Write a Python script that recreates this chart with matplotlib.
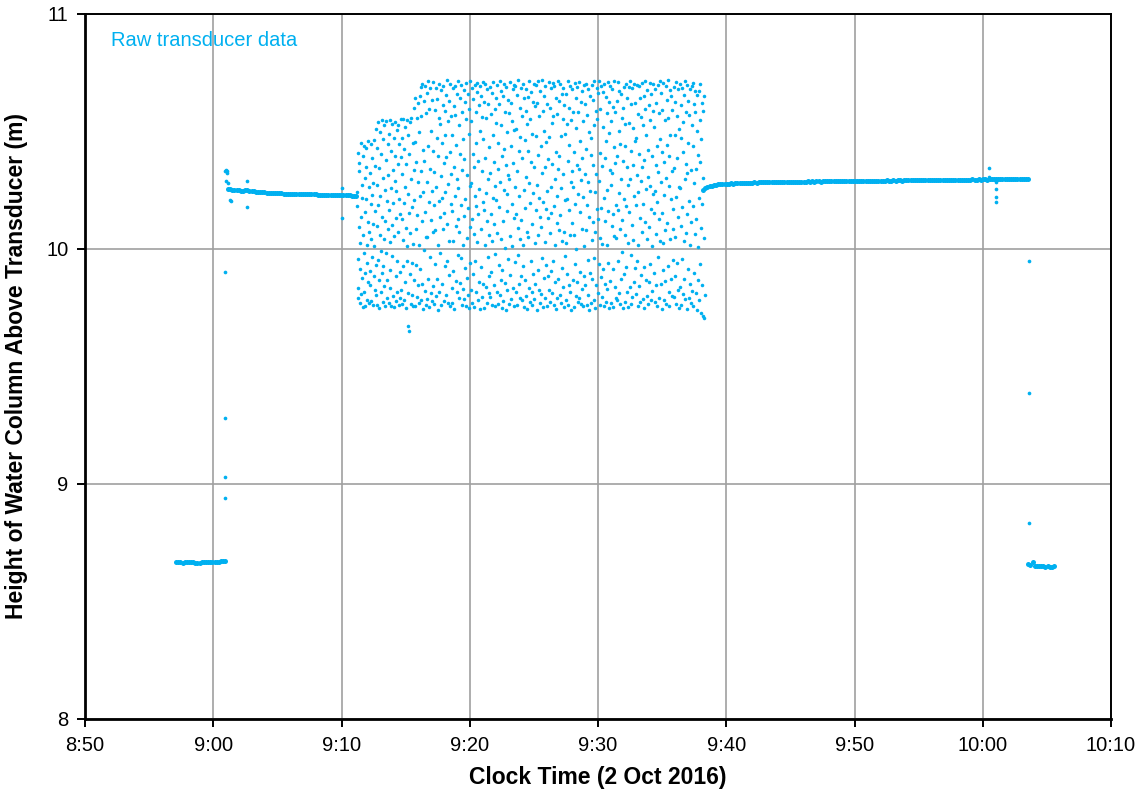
import numpy as np
import matplotlib.pyplot as plt
from matplotlib.ticker import FuncFormatter

plt.rcParams['font.family'] = ['Liberation Sans', 'DejaVu Sans']

BLUE = '#00B0F0'

# clock time is kept as minutes after 8:00 (8:50 -> 50, 10:10 -> 130)
# each logged segment: start time, sampling interval (s), heights (m)

# before the test, ~8:57 - 9:01
seg_a_start = 57.10
seg_a_step_s = 10
seg_a = [8.666, 8.667, 8.666, 8.665, 8.666, 8.667, 8.668, 8.667, 8.666, 8.665,
         8.664, 8.665, 8.666, 8.667, 8.668, 8.667, 8.668, 8.669, 8.670, 8.669,
         8.670, 8.671, 8.672, 8.674]

# steady level 9:01 - 9:11
seg_b_start = 61.15
seg_b_step_s = 10
seg_b = [10.256, 10.254, 10.251, 10.249, 10.252, 10.250, 10.248, 10.247, 10.249, 10.250,
         10.248, 10.246, 10.245, 10.244, 10.243, 10.242, 10.242, 10.241, 10.240, 10.240,
         10.239, 10.239, 10.238, 10.238, 10.237, 10.237, 10.236, 10.236, 10.236, 10.235,
         10.235, 10.235, 10.234, 10.234, 10.234, 10.233, 10.233, 10.233, 10.232, 10.232,
         10.232, 10.232, 10.231, 10.231, 10.231, 10.231, 10.230, 10.230, 10.230, 10.230,
         10.229, 10.229, 10.229, 10.229, 10.228, 10.228, 10.228, 10.228, 10.227, 10.227,
         10.227]

# noisy section 9:11 - 9:38
seg_c_start = 71.20
seg_c_step_s = 1.48
seg_c = [
    10.183, 10.241, 9.792, 9.836, 10.407, 9.958, 10.092, 10.331, 10.368, 9.771, 10.026, 9.914, 10.452, 10.137, 9.808, 10.274, 10.219, 9.876, 9.753, 10.396,
    10.061, 9.982, 10.438, 9.819, 10.157, 10.303, 9.757, 9.897, 10.212, 10.429, 10.348, 9.941, 10.019, 9.783, 10.116, 10.459, 9.861, 10.262, 10.071, 9.769,
    10.325, 9.905, 9.846, 10.193, 10.447, 10.041, 9.779, 10.386, 10.231, 9.968, 9.762, 10.108, 10.281, 10.462, 9.887, 10.014, 10.352, 9.825, 10.163, 9.934,
    10.512, 9.804, 10.096, 10.273, 9.761, 10.431, 10.539, 9.953, 10.187, 9.869, 9.748, 10.346, 10.058, 10.497, 10.224, 9.815, 9.991, 10.404, 10.548, 9.896,
    10.137, 9.776, 10.302, 10.466, 9.928, 10.044, 10.527, 9.842, 10.251, 10.119, 9.759, 10.378, 9.981, 10.543, 10.206, 9.867, 9.793, 10.445, 10.083, 10.316,
    9.771, 10.488, 10.166, 9.912, 10.551, 10.029, 9.834, 10.259, 10.418, 9.757, 10.102, 10.534, 9.969, 10.337, 9.801, 10.195, 10.473, 10.054, 9.752, 10.289,
    10.396, 10.541, 9.885, 10.132, 9.778, 10.247, 10.508, 9.947, 9.816, 10.363, 10.073, 10.529, 9.763, 10.214, 10.446, 9.902, 10.151, 9.791, 10.392, 10.554,
    9.826, 10.127, 10.474, 9.764, 10.318, 10.038, 10.552, 9.927, 10.196, 9.784, 10.425, 10.263, 9.859, 10.517, 10.091, 9.749, 10.361, 10.012, 10.549, 9.951,
    10.234, 10.486, 9.812, 9.672, 9.651, 10.154, 10.403, 9.893, 10.539, 10.066, 9.767, 10.297, 10.558, 9.941, 10.178, 9.803, 10.452, 10.021, 9.756, 10.338,
    10.601, 9.868, 10.209, 10.454, 9.759, 10.642, 10.087, 9.932, 10.371, 10.558, 9.794, 10.143, 10.623, 10.286, 9.847, 10.018, 10.496, 9.771, 10.652, 10.227,
    9.914, 10.689, 10.332, 9.781, 10.568, 10.117, 10.703, 9.853, 10.244, 10.421, 9.746, 10.631, 9.995, 10.376, 10.692, 9.822, 10.159, 10.578, 10.049, 9.763,
    10.665, 10.283, 9.789, 10.052, 10.714, 10.437, 9.871, 10.198, 9.754, 10.596, 10.342, 9.968, 10.687, 10.125, 9.813, 10.503, 10.246, 9.779, 10.632, 10.071,
    9.842, 10.417, 10.709, 10.186, 9.766, 10.328, 10.591, 9.935, 10.079, 10.684, 9.798, 10.262, 10.473, 10.639, 9.874, 10.016, 10.395, 9.742, 10.558, 10.204,
    10.701, 9.819, 10.137, 10.532, 9.984, 10.676, 10.309, 9.763, 10.451, 10.218, 9.851, 10.612, 10.693, 10.083, 9.778, 10.367, 10.154, 10.589, 9.926, 10.484,
    10.241, 10.657, 9.803, 10.392, 10.718, 9.947, 10.106, 10.546, 9.771, 10.275, 10.629, 9.889, 10.036, 10.702, 10.413, 9.758, 10.192, 10.567, 10.318, 9.834,
    10.486, 9.772, 10.163, 10.685, 10.034, 9.906, 10.609, 10.351, 9.745, 10.227, 10.571, 10.694, 9.862, 10.098, 10.442, 9.815, 10.299, 10.658, 9.973, 10.126,
    10.713, 10.258, 9.793, 10.527, 10.074, 9.857, 10.641, 10.403, 9.961, 10.189, 10.698, 9.761, 10.336, 10.583, 10.016, 9.829, 10.467, 10.676, 10.142, 9.786,
    10.382, 9.918, 10.624, 10.211, 9.758, 10.554, 10.707, 10.047, 9.876, 10.315, 10.661, 9.804, 10.173, 10.491, 9.747, 10.596, 10.268, 9.939, 10.715, 10.095,
    9.826, 10.543, 10.279, 9.769, 10.685, 10.128, 10.406, 9.892, 10.637, 10.062, 9.753, 10.349, 10.699, 10.224, 9.951, 10.581, 9.817, 10.183, 10.452, 10.667,
    10.031, 10.708, 9.782, 10.374, 10.149, 10.612, 9.861, 10.257, 10.693, 9.744, 10.502, 10.086, 9.923, 10.649, 10.331, 9.796, 10.563, 10.201, 10.711, 9.853,
    10.467, 10.164, 9.749, 10.625, 10.019, 10.388, 10.703, 9.838, 10.239, 10.558, 9.772, 10.117, 10.682, 9.965, 10.296, 10.617, 9.811, 10.435, 10.059, 9.887,
    10.691, 9.794, 10.325, 10.573, 9.901, 10.147, 10.662, 10.036, 9.762, 10.483, 10.219, 10.709, 9.848, 10.371, 10.106, 9.756, 10.594, 10.267, 9.979, 10.643,
    10.208, 10.537, 9.817, 10.069, 10.696, 10.341, 9.765, 10.452, 9.934, 10.618, 10.177, 9.803, 10.716, 10.284, 10.043, 9.869, 10.529, 10.672, 9.751, 10.396,
    9.912, 10.651, 10.118, 9.778, 10.427, 10.704, 10.251, 9.856, 10.584, 10.003, 10.359, 9.741, 10.688, 10.162, 10.497, 9.824, 10.233, 10.633, 9.957, 10.314,
    10.579, 9.768, 10.296, 10.712, 10.054, 9.891, 10.438, 10.621, 9.786, 10.193, 10.546, 10.014, 9.832, 10.681, 10.367, 9.759, 10.132, 10.505, 10.699, 9.944,
    10.263, 10.694, 9.815, 10.148, 10.511, 9.762, 10.657, 10.332, 9.976, 10.089, 10.719, 9.849, 10.418, 10.226, 9.793, 10.602, 10.041, 10.476, 9.883, 10.685,
    10.124, 9.781, 10.566, 10.388, 9.927, 10.703, 10.017, 10.249, 9.755, 10.641, 10.462, 9.868, 10.176, 10.587, 9.801, 10.307, 10.679, 10.072, 9.746, 10.533,
    10.419, 10.646, 10.052, 9.836, 10.281, 10.713, 9.774, 10.194, 10.552, 9.949, 10.372, 10.668, 9.819, 10.108, 10.488, 9.763, 10.626, 10.237, 9.893, 10.701,
    9.786, 10.351, 10.609, 10.026, 9.853, 10.697, 10.164, 10.479, 9.741, 10.273, 10.621, 9.912, 10.059, 10.714, 10.398, 9.827, 10.215, 10.566, 9.769, 10.138,
    10.674, 10.092, 9.808, 10.437, 10.718, 9.961, 10.324, 10.588, 9.752, 10.201, 10.502, 9.876, 10.653, 10.029, 10.347, 9.791, 10.692, 10.171, 9.934, 10.455,
    10.246, 9.759, 10.619, 10.383, 9.887, 10.132, 10.709, 9.824, 10.476, 10.067, 9.776, 10.598, 10.265, 10.686, 9.907, 10.153, 10.537, 9.812, 10.361, 10.706,
    9.948, 10.567, 10.184, 9.763, 10.693, 10.296, 10.019, 9.859, 10.641, 10.412, 9.745, 10.226, 10.574, 10.112, 9.791, 10.716, 10.339, 9.872, 10.081, 10.629,
    10.397, 9.806, 10.703, 10.143, 10.481, 9.772, 10.259, 10.658, 9.921, 10.036, 10.553, 10.687, 9.838, 10.318, 10.073, 9.754, 10.612, 10.207, 9.969, 10.491,
    10.658, 10.027, 9.783, 10.532, 10.213, 9.894, 10.714, 10.376, 9.761, 10.167, 10.602, 9.846, 10.443, 10.695, 10.058, 9.817, 10.284, 10.547, 9.742, 10.331,
    10.109, 10.679, 9.867, 10.264, 10.585, 9.753, 10.412, 10.061, 9.938, 10.706, 10.191, 9.799, 10.516, 10.643, 10.002, 9.861, 10.359, 10.689, 9.774, 10.236,
    10.583, 9.791, 10.342, 10.709, 9.902, 10.157, 10.461, 9.768, 10.627, 10.294, 10.083, 9.829, 10.671, 10.389, 9.756, 10.221, 10.544, 10.012, 10.697, 9.884,
    10.321, 10.616, 9.847, 10.079, 10.702, 10.426, 9.761, 10.188, 10.569, 9.953, 10.283, 10.681, 9.804, 10.137, 10.498, 9.742, 10.652, 10.246, 9.896, 10.399,
    9.769, 10.471, 10.699, 10.038, 9.873, 10.357, 10.632, 10.115, 9.785, 10.528, 10.714, 9.962, 10.243, 10.071, 9.751, 10.589, 10.319, 9.846, 10.685, 10.172,
    10.554, 10.129, 9.812, 10.664, 10.291, 9.936, 10.713, 10.048, 9.763, 10.409, 10.597, 9.881, 10.176, 10.693, 10.352, 9.797, 10.022, 10.517, 10.668, 9.915,
    10.216, 10.703, 9.757, 10.386, 10.119, 9.853, 10.647, 10.461, 9.776, 10.252, 10.578, 10.015, 9.829, 10.711, 10.163, 9.942, 10.493, 10.624, 9.748, 10.337,
    10.692, 9.864, 10.271, 10.543, 9.771, 10.098, 10.681, 10.322, 9.913, 10.147, 10.605, 9.753, 10.432, 10.716, 10.056, 9.837, 10.364, 10.581, 10.189, 9.792,
    10.047, 10.628, 10.394, 9.781, 10.712, 10.168, 9.948, 10.502, 10.239, 9.812, 10.674, 10.083, 9.764, 10.447, 10.298, 10.659, 9.871, 10.124, 10.559, 9.986,
    10.375, 9.747, 10.602, 10.213, 9.894, 10.689, 10.437, 10.061, 9.773, 10.531, 10.701, 9.925, 10.184, 10.348, 9.817, 10.643, 10.027, 10.271, 9.752, 10.689,
    10.158, 10.537, 9.839, 10.714, 10.296, 9.767, 10.418, 10.615, 9.973, 10.102, 10.684, 9.796, 10.359, 10.516, 10.039, 9.858, 10.702, 10.225, 9.918, 10.461,
    10.623, 9.808, 10.186, 10.471, 10.697, 9.951, 10.313, 9.758, 10.574, 10.243, 10.017, 10.692, 9.842, 10.406, 10.134, 9.774, 10.641, 10.289, 10.562, 9.889,
    10.071, 10.708, 10.349, 9.786, 10.527, 10.191, 9.923, 10.653, 10.378, 9.751, 10.116, 10.596, 10.715, 9.866, 10.254, 10.483, 9.801, 10.042, 10.676, 10.307,
    9.764, 10.421, 10.613, 10.094, 9.859, 10.705, 10.267, 9.938, 10.548, 10.172, 9.782, 10.661, 10.394, 10.011, 9.823, 10.589, 10.236, 10.703, 9.896, 10.152,
    10.517, 10.247, 9.773, 10.682, 10.063, 10.359, 9.847, 10.621, 10.438, 9.759, 10.201, 10.698, 9.964, 10.329, 10.577, 9.791, 10.128, 10.466, 10.716, 10.034,
    10.286, 9.851, 10.663, 10.412, 9.746, 10.154, 10.593, 10.027, 9.912, 10.708, 10.371, 9.785, 10.231, 10.548, 10.079, 9.863, 10.694, 10.302, 9.768, 10.443,
    10.634, 10.109, 9.926, 10.557, 10.718, 9.816, 10.268, 10.397, 9.757, 10.675, 10.043, 10.486, 9.871, 10.212, 10.651, 9.799, 10.331, 10.592, 10.087, 9.953,
    10.172, 10.689, 9.794, 10.346, 10.051, 9.883, 10.627, 10.484, 9.768, 10.223, 10.712, 9.942, 10.387, 10.566, 9.827, 10.136, 10.679, 10.265, 9.749, 10.512,
    10.703, 9.839, 10.258, 10.614, 10.096, 9.761, 10.473, 10.686, 9.957, 10.179, 10.542, 9.808, 10.411, 10.032, 10.657, 9.874, 10.297, 10.715, 9.786, 10.361,
    10.068, 10.582, 10.324, 9.744, 10.697, 10.147, 9.915, 10.453, 10.631, 9.793, 10.206, 10.569, 10.019, 9.852, 10.682, 10.338, 9.771, 10.114, 10.526, 10.692,
    9.821, 10.437, 10.706, 10.184, 9.758, 10.617, 10.279, 9.896, 10.063, 10.584, 10.671, 9.812, 10.342, 10.127, 9.742, 10.503, 10.656, 10.008, 9.869, 10.402,
    10.673, 10.219, 9.781, 10.551, 10.372, 9.936, 10.701, 10.089, 9.728, 10.467, 10.623, 9.847, 10.192, 9.714, 10.588, 10.302, 9.705, 10.651, 10.046, 9.803,
]

# steady level 9:38 - 10:03
seg_d_start = 98.20
seg_d_step_s = 10
seg_d = [10.250, 10.258, 10.263, 10.267, 10.270, 10.272, 10.273, 10.275, 10.275, 10.276, 10.277, 10.278,
         10.278, 10.279, 10.278, 10.280, 10.279, 10.280, 10.281, 10.280, 10.281, 10.282, 10.281, 10.282,
         10.283, 10.282, 10.283, 10.284, 10.283, 10.284, 10.283, 10.284, 10.285, 10.284, 10.285, 10.284,
         10.285, 10.286, 10.285, 10.286, 10.285, 10.286, 10.287, 10.286, 10.286, 10.287, 10.286, 10.287,
         10.287, 10.288, 10.287, 10.288, 10.287, 10.288, 10.288, 10.287, 10.288, 10.289, 10.288, 10.288,
         10.289, 10.288, 10.289, 10.289, 10.288, 10.289, 10.290, 10.289, 10.289, 10.290, 10.289, 10.290,
         10.290, 10.289, 10.290, 10.290, 10.291, 10.290, 10.290, 10.291, 10.290, 10.291, 10.291, 10.290,
         10.291, 10.291, 10.292, 10.291, 10.291, 10.292, 10.291, 10.292, 10.292, 10.291, 10.292, 10.292,
         10.293, 10.292, 10.292, 10.293, 10.292, 10.293, 10.293, 10.292, 10.293, 10.293, 10.294, 10.293,
         10.293, 10.294, 10.293, 10.294, 10.294, 10.293, 10.294, 10.294, 10.295, 10.294, 10.294, 10.295,
         10.294, 10.295, 10.295, 10.294, 10.295, 10.295, 10.296, 10.295, 10.295, 10.296, 10.295, 10.296,
         10.296, 10.295, 10.296, 10.296, 10.297, 10.296, 10.296, 10.297, 10.296, 10.297, 10.297, 10.296,
         10.297, 10.297, 10.298, 10.297, 10.297, 10.298, 10.297, 10.298, 10.298]

# after the test, ~10:03.5 - 10:05.5
seg_e_start = 123.55
seg_e_step_s = 10
seg_e = [8.660, 8.655, 8.668, 8.652, 8.650, 8.651, 8.649, 8.650, 8.648, 8.649, 8.648, 8.648, 8.649]

# single readings during the level changes
spike_t = [60.92, 60.92, 60.92, 60.93, 60.95, 61.00, 61.05, 61.10, 60.97, 61.15, 61.30, 61.35,
           62.63, 62.63, 70.04, 70.04, 120.49, 120.49, 121.03, 121.03, 121.03, 121.03,
           123.60, 123.60, 123.60]
spike_h = [9.90, 9.28, 9.03, 8.94, 10.33, 10.335, 10.325, 10.33, 10.29, 10.28, 10.21, 10.205,
           10.29, 10.18, 10.26, 10.13, 10.345, 10.306, 10.285, 10.255, 10.22, 10.20,
           9.95, 9.387, 8.834]

x_ticks = [50, 60, 70, 80, 90, 100, 110, 120, 130]
y_ticks = [8, 9, 10, 11]


def seg_times(start, step_s, vals):
    return start + np.arange(len(vals)) * step_s / 60.0


def clock_fmt(m, pos):
    m = int(round(m))
    return f"{8 + m // 60}:{m % 60:02d}"


fig = plt.figure(figsize=(11.43, 7.95), dpi=100)
ax = fig.add_axes([0.0744, 0.0956, 0.8976, 0.8868])

for start, step, vals, size in [(seg_a_start, seg_a_step_s, seg_a, 13),
                                (seg_b_start, seg_b_step_s, seg_b, 13),
                                (seg_c_start, seg_c_step_s, seg_c, 6.5),
                                (seg_d_start, seg_d_step_s, seg_d, 13),
                                (seg_e_start, seg_e_step_s, seg_e, 13)]:
    ax.scatter(seg_times(start, step, vals), vals, s=size, color=BLUE, linewidths=0, zorder=3)
ax.scatter(spike_t, spike_h, s=7, color=BLUE, linewidths=0, zorder=3)

ax.set_xlim(50, 130)
ax.set_ylim(8, 11)
ax.set_xticks(x_ticks)
ax.set_yticks(y_ticks)
ax.xaxis.set_major_formatter(FuncFormatter(clock_fmt))
ax.grid(True, color='#a0a0a0', linewidth=1.2)
ax.set_axisbelow(True)

for side in ['left', 'bottom']:
    ax.spines[side].set_linewidth(2.0)
for side in ['top', 'right']:
    ax.spines[side].set_linewidth(1.4)
ax.tick_params(direction='out', length=6, width=1.4, color='black', labelsize=14.5, pad=6)

ax.set_xlabel("Clock Time (2 Oct 2016)", fontsize=16.5, fontweight='bold')
ax.set_ylabel("Height of Water Column Above Transducer (m)", fontsize=16.5, fontweight='bold')
ax.xaxis.set_label_coords(0.5, -0.066)
ax.yaxis.set_label_coords(-0.056, 0.5)

ax.text(0.025, 0.963, "Raw transducer data", transform=ax.transAxes, color=BLUE,
        fontsize=14.5, ha='left', va='center')

plt.savefig("out.png", dpi=100)
